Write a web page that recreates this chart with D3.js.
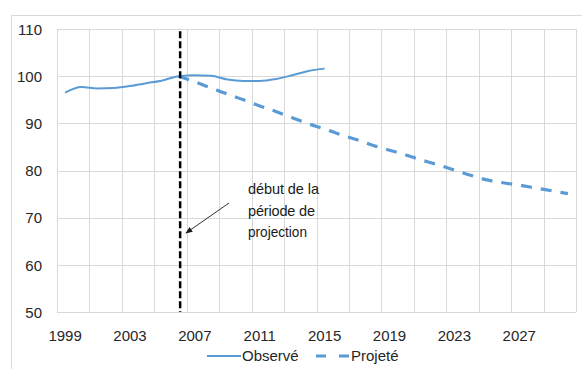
<!DOCTYPE html>
<html><head><meta charset="utf-8">
<script src="https://cdn.jsdelivr.net/npm/d3@7"></script>
<style>body{margin:0;background:#fff;}svg{display:block;font-family:"Liberation Sans",Arial,sans-serif;}</style>
</head><body><svg id="c" width="582" height="369"></svg>
<script>
const years = d3.range(1999, 2031);
const observedYears = [1999,2000,2001,2002,2003,2004,2005,2006,2007,2008,2009,2010,2011,2012,2013,2014,2015];
const observed = [96.5,97.7,97.4,97.5,97.9,98.5,99.1,100.0,100.2,100.1,99.3,99.0,99.0,99.4,100.2,101.1,101.6];
const projectedYears = [2006,2007,2008,2009,2010,2011,2012,2013,2014,2015,2016,2017,2018,2019,2020,2021,2022,2023,2024,2025,2026,2027,2028,2029,2030];
const projected = [100.0,98.8,97.5,96.2,95.0,93.7,92.5,91.2,89.9,88.8,87.6,86.5,85.3,84.3,83.3,82.2,81.2,80.1,79.0,78.0,77.4,76.9,76.3,75.7,75.1];
const yTicks = [50,60,70,80,90,100,110];
const xTickLabels = [1999,2003,2007,2011,2015,2019,2023,2027];
const projectionStart = 2006;
const annotationLines = ["début de la","période de","projection"];
const legendLabels = ["Observé","Projeté"];

const svg = d3.select("#c");
const L = 57, R = 576, T = 29, B = 312;
const color = "#5b9bd5";
const grid = "#d9d9d9";
const textCol = "#262626";

// outer chart border
svg.append("rect").attr("x",11.5).attr("y",15.5).attr("width",600).attr("height",400)
  .attr("fill","none").attr("stroke","#d9d9d9");

const x = d3.scaleBand().domain(years).range([L,R]);
const xc = v => x(v) + x.bandwidth()/2;
const y = d3.scaleLinear().domain([50,110]).range([B,T]);

// horizontal grid
svg.append("g").selectAll("line").data(yTicks).join("line")
  .attr("x1",L).attr("x2",R).attr("y1",d=>Math.round(y(d))+0.5).attr("y2",d=>Math.round(y(d))+0.5)
  .attr("stroke",grid);
// vertical grid every 2 categories
const vg = years.filter((d,i)=>i%2===0).map(d=>x(d)).concat([R]);
svg.append("g").selectAll("line").data(vg).join("line")
  .attr("x1",d=>Math.round(d)+0.5).attr("x2",d=>Math.round(d)+0.5).attr("y1",T).attr("y2",B)
  .attr("stroke",grid);

// y axis labels
const yAxis = d3.axisLeft(y).tickValues(yTicks).tickSize(0).tickPadding(0);
const ga = svg.append("g").attr("transform",`translate(${L-15},0)`).call(yAxis);
ga.select(".domain").remove();
ga.selectAll("text").attr("font-size",15).attr("fill",textCol).attr("font-family","Liberation Sans, Arial, sans-serif").attr("dy","0.35em");

// x axis labels
const xAxis = d3.axisBottom(x).tickValues(xTickLabels).tickSize(0).tickPadding(0);
const gx = svg.append("g").attr("transform",`translate(0,${B+23.5})`).call(xAxis);
gx.select(".domain").remove();
gx.selectAll("text").attr("font-size",15).attr("fill",textCol).attr("font-family","Liberation Sans, Arial, sans-serif").attr("dy","0.35em");

// lines
const line = d3.line().x(d=>xc(d[0])).y(d=>y(d[1])).curve(d3.curveMonotoneX);
svg.append("path").datum(projectedYears.map((d,i)=>[d,projected[i]]))
  .attr("d",line).attr("fill","none").attr("stroke",color).attr("stroke-width",3.2)
  .attr("stroke-dasharray","11,9");
svg.append("path").datum(observedYears.map((d,i)=>[d,observed[i]]))
  .attr("d",line).attr("fill","none").attr("stroke",color).attr("stroke-width",2);

// projection start line
svg.append("line").attr("x1",xc(projectionStart)+1.5).attr("x2",xc(projectionStart)+1.5)
  .attr("y1",y(109.5)).attr("y2",B).attr("stroke","#000").attr("stroke-width",2.5)
  .attr("stroke-dasharray","7,3");

// annotation
const ann = svg.append("text").attr("font-size",14.5).attr("fill","#1a1a1a");
const annLen = [71, 67, 59];
annotationLines.forEach((t,i)=>{
  ann.append("tspan").attr("x",248).attr("y",194+i*21.5).text(t)
    .attr("textLength", annLen[i]).attr("lengthAdjust", i<2 ? "spacing" : "spacingAndGlyphs");
});
svg.append("defs").append("marker").attr("id","ah").attr("viewBox","0 0 10 10")
  .attr("refX",9).attr("refY",5).attr("markerWidth",7).attr("markerHeight",7).attr("orient","auto")
  .append("path").attr("d","M0,1 L10,5 L0,9 Z").attr("fill","#1a1a1a");
svg.append("line").attr("x1",229).attr("y1",203).attr("x2",186).attr("y2",233)
  .attr("stroke","#333").attr("stroke-width",1).attr("marker-end","url(#ah)");

// legend
const lg = svg.append("g");
lg.append("line").attr("x1",207).attr("x2",241).attr("y1",356).attr("y2",356).attr("stroke",color).attr("stroke-width",2);
lg.append("text").attr("x",242).attr("y",360.5).attr("font-size",15).attr("fill",textCol).text(legendLabels[0]);
lg.append("line").attr("x1",316).attr("x2",349).attr("y1",356).attr("y2",356).attr("stroke",color).attr("stroke-width",3.2).attr("stroke-dasharray","10,13");
lg.append("text").attr("x",351).attr("y",360.5).attr("font-size",15).attr("fill",textCol).text(legendLabels[1]);
</script></body></html>
